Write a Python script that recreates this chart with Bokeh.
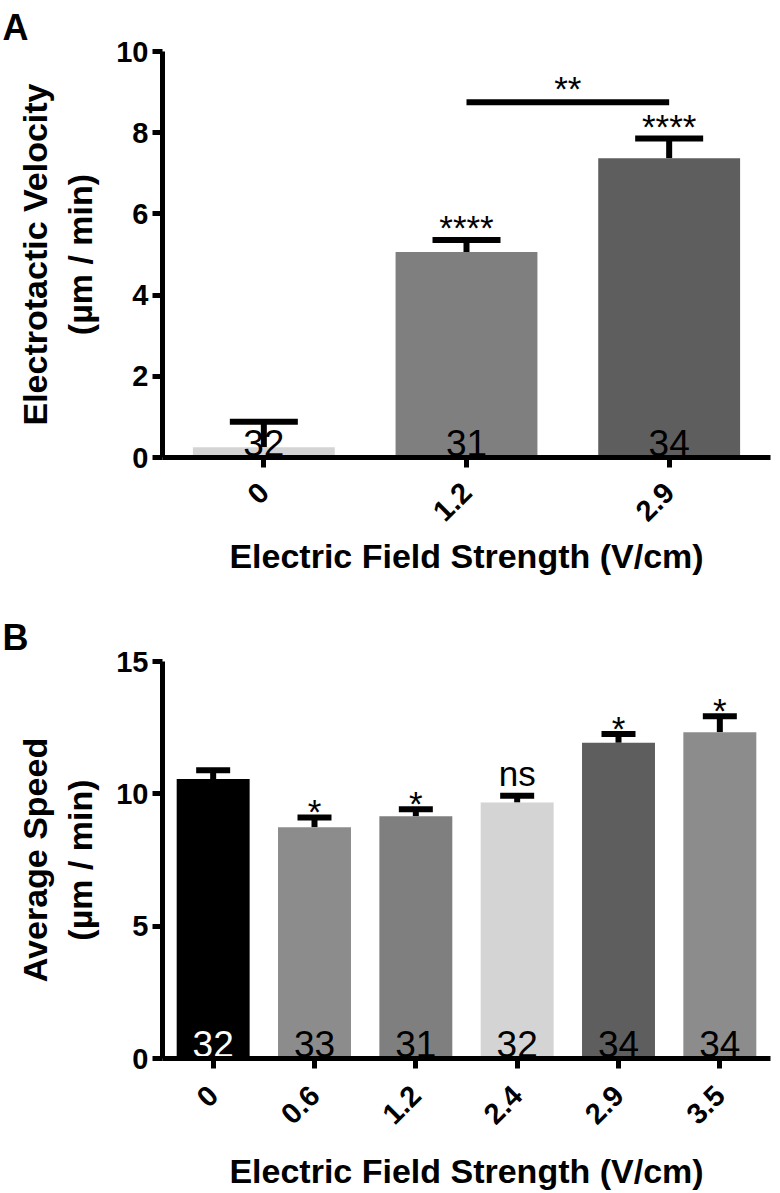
import math
from bokeh.plotting import figure
from bokeh.models import (ColumnDataSource, FactorRange, Range1d, Whisker, TeeHead,
                          FixedTicker)
from bokeh.layouts import column
from bokeh.embed import file_html
from bokeh.resources import INLINE
from bokeh.core.properties import value

FONT = "Liberation Sans"

# ---------------- Panel A data ----------------
a_fields = ["0", "1.2", "2.9"]
a_velocity = [0.25, 5.06, 7.37]
a_sem = [0.63, 0.30, 0.49]
a_n = ["32", "31", "34"]
a_sig = ["", "****", "****"]
a_colors = ["#d4d4d4", "#7f7f7f", "#5e5e5e"]
a_n_colors = ["black", "black", "black"]
a_bracket = ["1.2", "2.9"]
a_bracket_y = 8.75
a_bracket_text = "**"
a_yticks = [0, 2, 4, 6, 8, 10]

# ---------------- Panel B data ----------------
b_fields = ["0", "0.6", "1.2", "2.4", "2.9", "3.5"]
b_speed = [10.56, 8.74, 9.15, 9.67, 11.93, 12.33]
b_sem = [0.33, 0.37, 0.27, 0.26, 0.33, 0.60]
b_n = ["32", "33", "31", "32", "34", "34"]
b_sig = ["", "*", "*", "ns", "*", "*"]
b_colors = ["#000000", "#8c8c8c", "#7f7f7f", "#d4d4d4", "#5e5e5e", "#8c8c8c"]
b_n_colors = ["white", "black", "black", "black", "black", "black"]
b_yticks = [0, 5, 10, 15]

W = 780


def make_panel(fields, vals, sem, n, sig, colors, n_colors, ymax, ticks, ylabel,
               letter, height, top_b, bottom_b, right_b, cap_px, bar_w,
               star_off, label_standoff, title_standoff, letter_standoff):
    src = ColumnDataSource(dict(
        f=fields, v=vals, up=[a + b for a, b in zip(vals, sem)], n=n, sig=sig,
        c=colors, nc=n_colors,
        sig_off=[star_off if s.startswith("*") else -22 for s in sig],
    ))
    p = figure(x_range=FactorRange(*fields), y_range=Range1d(0, ymax),
               width=W, height=height, output_backend="svg", toolbar_location=None,
               min_border_left=162, min_border_right=right_b,
               min_border_top=top_b, min_border_bottom=bottom_b)
    p.outline_line_color = None
    p.grid.visible = False
    p.background_fill_color = "white"

    # panel letter as the title
    p.title.text = letter
    p.title.text_font = FONT
    p.title.text_font_style = "bold"
    p.title.text_font_size = "36px"
    p.title.text_color = "black"
    p.title.align = "left"
    p.title.offset = -160
    p.title.standoff = letter_standoff

    p.vbar(x="f", top="v", width=bar_w, fill_color="c", line_color=None, source=src)

    wh = Whisker(base="f", upper="up", lower="v", source=src, line_width=6,
                 line_color="black",
                 upper_head=TeeHead(size=cap_px, line_width=6, line_color="black"),
                 lower_head=None)
    p.add_layout(wh)

    p.text(x="f", y=0, text="n", source=src, text_font=value(FONT),
           text_font_size="37px", text_align="center", text_baseline="middle",
           text_color="nc", y_offset=-15)

    p.text(x="f", y="up", text="sig", source=src, text_font=value(FONT),
           text_font_size="35px", text_align="center", text_baseline="middle",
           text_color="black", y_offset="sig_off")

    # axes styling
    p.yaxis.ticker = FixedTicker(ticks=ticks)
    for ax in (p.xaxis, p.yaxis):
        ax.axis_line_width = 5
        ax.axis_line_color = "black"
        ax.major_tick_line_width = 5
        ax.major_tick_line_color = "black"
        ax.major_tick_out = 10
        ax.major_tick_in = 0
        ax.minor_tick_line_color = None
        ax.major_label_text_font = FONT
        ax.major_label_text_font_style = "bold"
        ax.major_label_text_font_size = "29px"
        ax.major_label_text_color = "black"
        ax.axis_label_text_font = FONT
        ax.axis_label_text_font_style = "bold"
        ax.axis_label_text_font_size = "34px"
        ax.axis_label_text_color = "black"
    p.yaxis.major_label_standoff = 4
    p.xaxis.major_label_standoff = label_standoff
    p.xaxis.major_label_orientation = math.pi / 4
    p.yaxis.axis_label = ylabel
    p.xaxis.axis_label = "Electric Field Strength (V/cm)"
    p.yaxis.axis_label_standoff = 14
    p.xaxis.axis_label_standoff = title_standoff
    return p


pa = make_panel(a_fields, a_velocity, a_sem, a_n, a_sig, a_colors, a_n_colors,
                10, a_yticks, "Electrotactic Velocity\n(µm / min)", "A",
                600, 50, 143, 2, 68, 0.7, -12, 20, 4, 8)

# bracket between two groups
i0, i1 = a_fields.index(a_bracket[0]), a_fields.index(a_bracket[1])
pa.segment(x0=[a_bracket[0]], x1=[a_bracket[1]], y0=[a_bracket_y], y1=[a_bracket_y],
           line_width=6, line_color="black")
pa.text(x=[(i0 + i1) / 2 + 0.5], y=[a_bracket_y], text=[a_bracket_text],
        text_font=value(FONT), text_font_size="35px", text_align="center",
        text_baseline="middle", y_offset=-14, text_color="black")

pb = make_panel(b_fields, b_speed, b_sem, b_n, b_sig, b_colors, b_n_colors,
                15, b_yticks, "Average Speed\n(µm / min)", "B",
                593, 61, 128, 10, 34, 0.72, -6, 22, 16, 8)

layout = column(pa, pb, spacing=0)
open("out.html", "w").write(file_html(layout, INLINE))
